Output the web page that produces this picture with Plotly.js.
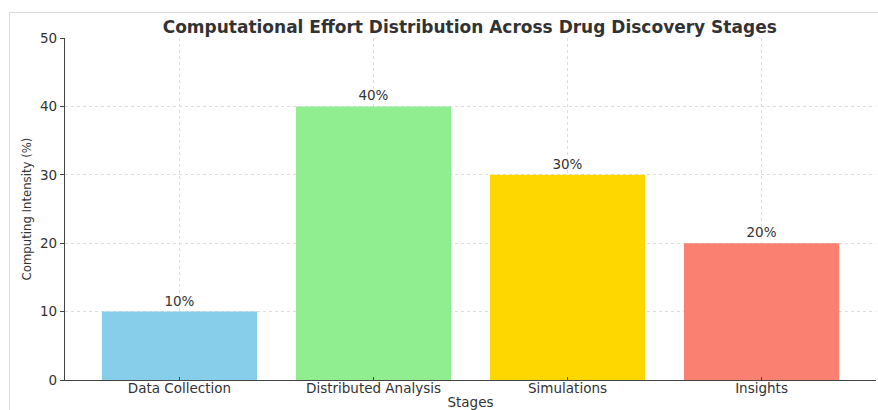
<!DOCTYPE html>
<html>
<head>
<meta charset="utf-8">
<script src="https://cdn.plot.ly/plotly-3.0.1.min.js"></script>
<style>
  html, body { margin: 0; padding: 0; background: #fff; }
  #frame { position: absolute; left: 9px; top: 12px; width: 900px; height: 420px; border: 1px solid #dcdcdc; }
  #chart { position: absolute; left: 0; top: 0; width: 878px; height: 410px; }
</style>
</head>
<body>
<div id="frame"></div>
<div id="chart"></div>
<script>
const stages = ["Data Collection", "Distributed Analysis", "Simulations", "Insights"];
const intensity = [10, 40, 30, 20];
const barColors = ["#87CEEB", "#90EE90", "#FFD700", "#FA8072"];
const labels = intensity.map(v => v + "%");
const yTicks = [0, 10, 20, 30, 40, 50];

const font = "DejaVu Sans, sans-serif";

const trace = {
  type: "bar",
  x: stages,
  y: intensity,
  width: 0.8,
  marker: { color: barColors },
  text: labels,
  textposition: "outside",
  cliponaxis: false,
  textfont: { family: font, size: 13.5, color: "#333" },
  hoverinfo: "x+y"
};

const layout = {
  width: 878,
  height: 410,
  margin: { l: 65, r: 2, t: 38, b: 30 },
  paper_bgcolor: "rgba(0,0,0,0)",
  plot_bgcolor: "rgba(0,0,0,0)",
  showlegend: false,
  bargap: 0.2,
  title: {
    text: "<b>Computational Effort Distribution Across Drug Discovery Stages</b>",
    font: { family: "DejaVu Sans, sans-serif", size: 17, color: "#333" },
    x: 0.535, xanchor: "center",
    y: 0.935, yanchor: "middle"
  },
  xaxis: {
    type: "category",
    range: [-0.59, 3.59],
    showline: true, linecolor: "#444", linewidth: 1.2,
    ticks: "inside", ticklen: 3, tickcolor: "#444",
    ticklabelstandoff: -4,
    showgrid: true, gridcolor: "#dedede", griddash: "dot", gridwidth: 1,
    tickfont: { family: font, size: 13.5, color: "#333" },
    title: { text: "Stages", font: { family: font, size: 13.5, color: "#333" }, standoff: 2 },
    zeroline: false
  },
  yaxis: {
    range: [0, 50],
    tickvals: yTicks,
    showline: true, linecolor: "#444", linewidth: 1.2,
    ticks: "outside", ticklen: 4, tickcolor: "#444",
    showgrid: true, gridcolor: "#dedede", griddash: "dot", gridwidth: 1,
    tickfont: { family: font, size: 13.5, color: "#333" },
    title: { text: "Computing Intensity (%)", font: { family: "Liberation Sans Narrow, DejaVu Sans Condensed, sans-serif", size: 13, color: "#333" }, standoff: 5 },
    zeroline: false
  }
};

Plotly.newPlot("chart", [trace], layout, { displayModeBar: false, staticPlot: true });
</script>
</body>
</html>
